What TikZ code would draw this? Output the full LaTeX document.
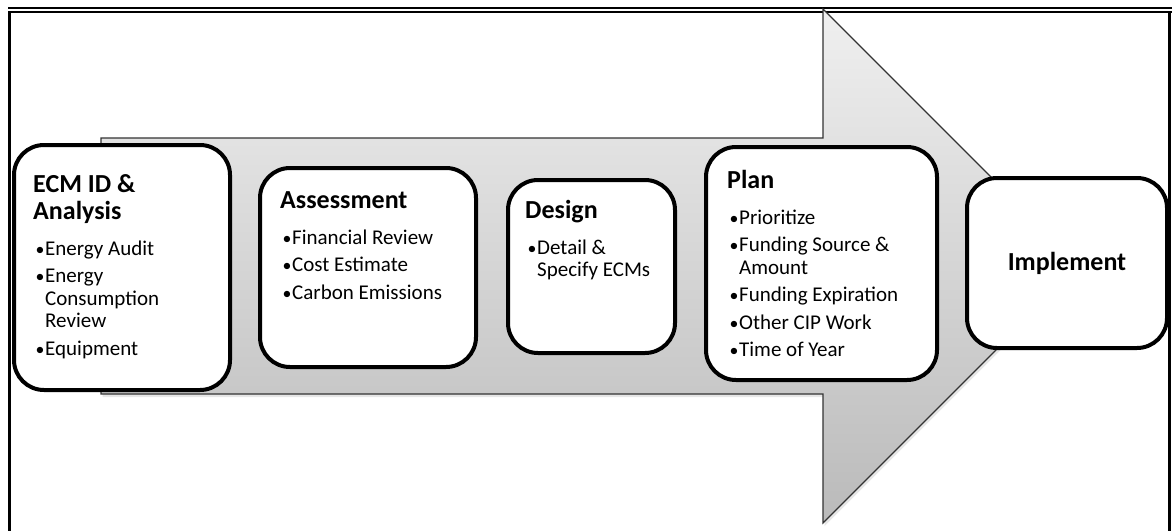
\documentclass[tikz,border=0pt]{standalone}
\usepackage{fontspec}
\setmainfont{Carlito}
\usetikzlibrary{shadows}

% title and bullet lines inside a stage box
\newcommand\ttl[1]{{\fontsize{26}{27}\selectfont\bfseries #1\par}\vspace{8.5pt}}
\newcommand\itm[1]{\par\vspace{5pt}\hangindent=12pt\hangafter=1\noindent\hspace*{2.5pt}\makebox[9.5pt][l]{\scalebox{0.85}{\textbullet}}#1}

\tikzset{
  stagebox/.style={draw=black, line width=4pt, rounded corners=30pt, fill=white, inner sep=0pt},
  stagetxt/.style={anchor=base west, inner sep=0pt, align=left},
  flow/.style={draw=black!80, line width=1.2pt, top color=black!6, bottom color=black!27,
    drop shadow={shadow xshift=1.5pt, shadow yshift=-3pt, opacity=0.2}}
}

\begin{document}
\begin{tikzpicture}[x=1pt, y=-1pt]

    % Fix the page size
    \useasboundingbox (0,0) rectangle (1172,531);

    % Draw the outer frame (double line at the top)
    \draw[line width=3pt] (9.5,11) -- (9.5,531);
    \draw[line width=3pt] (1169.5,11) -- (1169.5,531);
    \draw[line width=2pt] (8,7.5) -- (1172,7.5);
    \draw[line width=2pt] (8,11.5) -- (1172,11.5);

    % Define the corners of the big arrow
    \coordinate (S1) at (101,138);
    \coordinate (S2) at (823,138);
    \coordinate (H1) at (823,9);
    \coordinate (T) at (1080,266);
    \coordinate (H2) at (823,523);
    \coordinate (S3) at (823,394);
    \coordinate (S4) at (101,394);

    % Draw the big arrow behind the stages
    \path[flow] (S1) -- (S2) -- (H1) -- (T) -- (H2) -- (S3) -- (S4) -- cycle;

    % Draw the five stage boxes
    \node[stagebox, minimum width=216, minimum height=245] (ecm) at (122,267.5) {};
    \node[stagebox, minimum width=216, minimum height=199] (assess) at (368,267.5) {};
    \node[stagebox, minimum width=167, minimum height=173] (design) at (591.5,266.5) {};
    \node[stagebox, minimum width=231, minimum height=233] (plan) at (821.5,263.5) {};
    \node[stagebox, minimum width=200, minimum height=170, font=\fontsize{26}{27}\selectfont\bfseries] (impl) at (1067,263) {Implement};

    % Place the texts of the stages
    \node[stagetxt] (ecmtxt) at (33,192) {\parbox[t]{200pt}{\fontsize{21}{22.5}\selectfont
      \ttl{ECM ID \&\\Analysis}\itm{Energy Audit}\itm{Energy\newline Consumption\newline Review}\itm{Equipment}}};
    \node[stagetxt] (assesstxt) at (280,208) {\parbox[t]{200pt}{\fontsize{21}{22.5}\selectfont
      \ttl{Assessment}\itm{Financial Review}\itm{Cost Estimate}\itm{Carbon Emissions}}};
    \node[stagetxt] (designtxt) at (525,218) {\parbox[t]{200pt}{\fontsize{21}{22.5}\selectfont
      \ttl{Design}\itm{Detail \&\newline Specify ECMs}}};
    \node[stagetxt] (plantxt) at (727,188) {\parbox[t]{200pt}{\fontsize{21}{22.5}\selectfont
      \ttl{Plan}\itm{Prioritize}\itm{Funding Source \&\newline Amount}\itm{Funding Expiration}\itm{Other CIP Work}\itm{Time of Year}}};

\end{tikzpicture}
\end{document}
